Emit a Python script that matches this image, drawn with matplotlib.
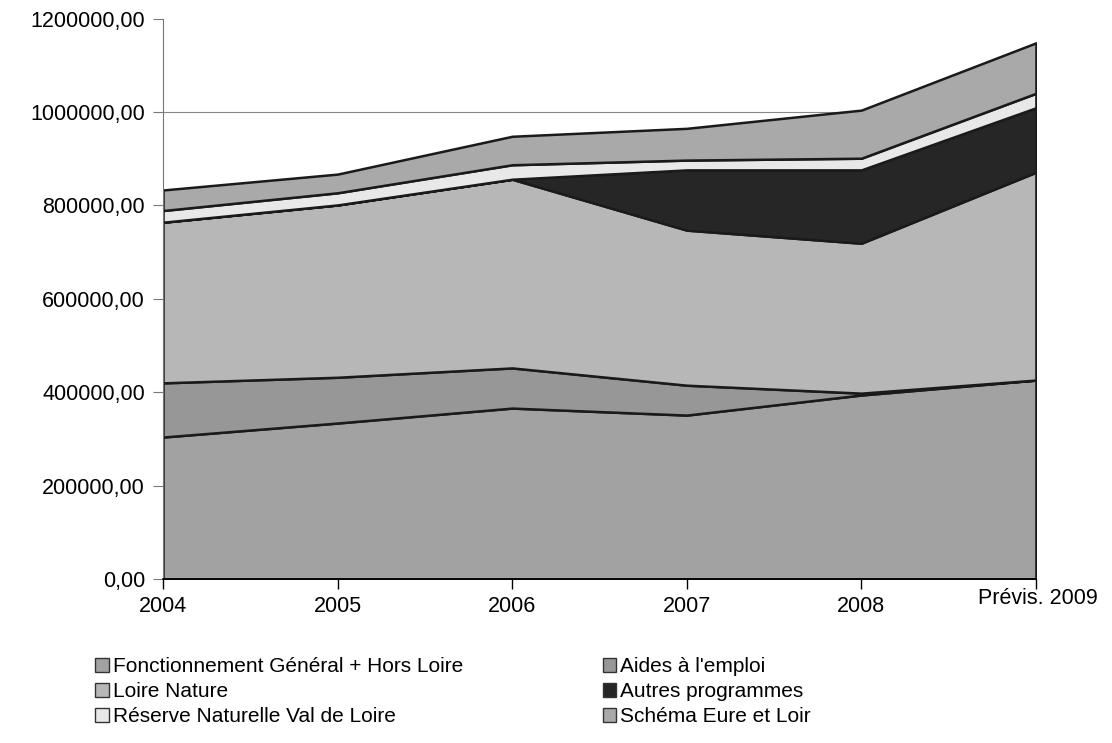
import numpy as np
import matplotlib.pyplot as plt
from matplotlib.patches import Patch
from matplotlib.transforms import ScaledTranslation

plt.rcParams['font.family'] = ['Liberation Sans', 'DejaVu Sans']

years = ['2004', '2005', '2006', '2007', '2008', 'Prévis. 2009']

# values read from the stacked areas (euros)
fonctionnement = [304000, 334000, 366000, 351000, 394000, 426000]
aides_emploi = [116000, 98000, 86000, 64000, 4000, 0]
loire_nature = [344000, 369000, 404000, 332000, 321000, 445000]
autres_programmes = [0, 0, 0, 129000, 157000, 138000]
reserve_naturelle = [25000, 26000, 31000, 21000, 25000, 31000]
schema_eure_loir = [44000, 40000, 61000, 68000, 103000, 108000]

series = [fonctionnement, aides_emploi, loire_nature, autres_programmes,
          reserve_naturelle, schema_eure_loir]
labels = ['Fonctionnement Général + Hors Loire', "Aides à l'emploi", 'Loire Nature',
          'Autres programmes', 'Réserve Naturelle Val de Loire', 'Schéma Eure et Loir']
colors = ['#a2a2a2', '#979797', '#b7b7b7', '#262626', '#e8e8e8', '#a9a9a9']

fig = plt.figure(figsize=(11.12, 7.43), dpi=100)
ax = fig.add_axes([0.1466, 0.2207, 0.785, 0.7543])

x = np.arange(len(years))
for yv in [200000, 400000, 600000, 800000, 1000000]:
    ax.axhline(yv, color='#888888', lw=0.8, zorder=0)
ax.stackplot(x, *series, colors=colors, edgecolor='#1a1a1a', linewidth=1.8, zorder=2)

ax.set_xlim(0, len(years) - 1)
ax.set_ylim(0, 1200000)
ax.set_xticks(x)
ax.set_xticklabels(years, fontsize=15.5)
ax.set_yticks(np.arange(0, 1200001, 200000))
ax.set_yticklabels([f'{v},00' for v in range(0, 1200001, 200000)], fontsize=15.5)
ax.tick_params(axis='x', length=7, width=1, pad=5)
ax.tick_params(axis='y', length=7, width=0.8, color='#777777', pad=6)
for s in ['top', 'right']:
    ax.spines[s].set_visible(False)
ax.spines['left'].set_color('#777777')
ax.spines['left'].set_linewidth(0.8)
ax.spines['bottom'].set_linewidth(1.2)

# the last category label sits a little higher in the original
last = ax.get_xticklabels()[-1]
last.set_transform(last.get_transform() + ScaledTranslation(0.02, 0.08, fig.dpi_scale_trans))

order = [0, 2, 4, 1, 3, 5]
handles = [Patch(facecolor=colors[i], edgecolor='#333333', label=labels[i]) for i in order]
fig.legend(handles=handles, loc='upper left', bbox_to_anchor=(0.078, 0.127), ncol=2,
           frameon=False, fontsize=15, handlelength=0.65, handleheight=0.65,
           handletextpad=0.2, columnspacing=6.7, labelspacing=0.3, borderaxespad=0)

fig.savefig('out.png', dpi=100)
